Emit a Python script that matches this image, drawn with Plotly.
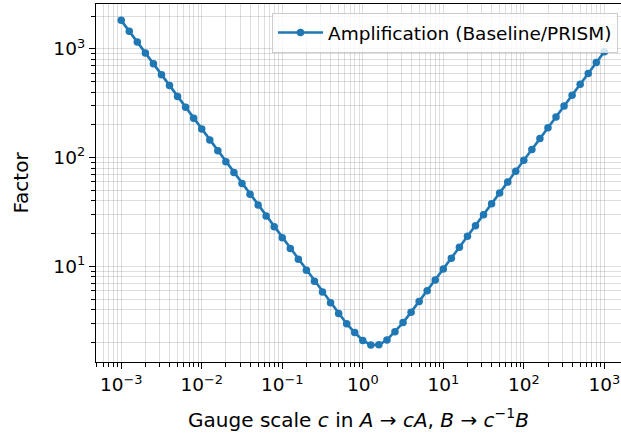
import plotly.graph_objects as go

# Gauge scale c, sampled at 10 points per decade from 1e-3 to 1e3
gauge_exponents = list(range(-30, 31))
gauge_scale = [10 ** (e / 10) for e in gauge_exponents]

# Amplification factor (Baseline / PRISM) at each gauge scale
amplification = [
    1834, 1457, 1157, 919, 730, 580, 461, 366, 291, 231,
    183.4, 145.7, 115.7, 91.9, 73.0, 58.0, 46.1, 36.6, 29.1, 23.1,
    18.3, 14.6, 11.6, 9.19, 7.31, 5.81, 4.62, 3.69, 2.97, 2.46,
    2.08, 1.89, 1.90, 2.10, 2.50, 3.04, 3.79, 4.75, 5.97, 7.51,
    9.45, 11.9, 15.0, 18.9, 23.7, 29.9, 37.6, 47.4, 59.6, 75.1,
    94.5, 119, 150, 189, 237, 299, 376, 474, 596, 751, 945,
]

series_name = "Amplification (Baseline/PRISM)"
x_title = ("Gauge scale <i>c</i> in <i>A</i> \u2192 <i>cA</i>,"
           " <i>B</i> \u2192 <i>c</i><sup>\u22121</sup><i>B</i>")
y_title = "Factor"

x_major = [10 ** k for k in range(-3, 4)]
x_major_text = [f"10<sup>{str(k).replace('-', '\u2212')}</sup>" for k in range(-3, 4)]
y_major = [10, 100, 1000]
y_major_text = ["10<sup>1</sup>", "10<sup>2</sup>", "10<sup>3</sup>"]

x_range_log = [-3.313, 3.207]
y_range_log = [0.12, 3.414]

x_minor = [m * 10 ** d for d in range(-4, 4) for m in range(2, 10)
           if 10 ** x_range_log[0] < m * 10 ** d < 10 ** x_range_log[1]]
y_minor = [m * 10 ** d for d in range(0, 4) for m in range(2, 10)
           if 10 ** y_range_log[0] < m * 10 ** d < 10 ** y_range_log[1]]

FONT = "DejaVu Sans"
FS = 18.5
FS_TITLE = 20
BLUE = "#1f77b4"
GRID = "rgba(0,0,0,0.13)"

fig = go.Figure()
fig.add_trace(go.Scatter(
    x=gauge_scale, y=amplification, name=series_name,
    mode="lines+markers",
    line=dict(color=BLUE, width=2.6),
    marker=dict(color=BLUE, size=7.5),
))

axis_common = dict(
    type="log", showline=True, linecolor="black", linewidth=1.3,
    ticks="outside", ticklen=6, tickwidth=1.3, tickcolor="black",
    showgrid=True, gridcolor=GRID, gridwidth=1.2, zeroline=False,
    tickfont=dict(family=FONT, size=FS, color="black"),
)

fig.update_xaxes(
    **axis_common, range=x_range_log, mirror=True,
    tickmode="array", tickvals=x_major, ticktext=x_major_text,
    minor=dict(tickvals=x_minor, ticks="outside", ticklen=3.5, tickwidth=1,
               tickcolor="black", showgrid=True, gridcolor=GRID, gridwidth=1.2),
    title=dict(text=x_title, font=dict(family=FONT, size=FS_TITLE, color="black"),
               standoff=18),
)
fig.update_yaxes(
    **axis_common, range=y_range_log, mirror=False,
    tickmode="array", tickvals=y_major, ticktext=y_major_text,
    minor=dict(tickvals=y_minor, ticks="outside", ticklen=3.5, tickwidth=1,
               tickcolor="black", showgrid=True, gridcolor=GRID, gridwidth=1.2),
    title=dict(text=y_title, font=dict(family=FONT, size=FS_TITLE, color="black"),
               standoff=19),
)

fig.update_layout(
    width=621, height=440,
    margin=dict(l=96, r=0, t=4, b=78),
    paper_bgcolor="white", plot_bgcolor="white",
    font=dict(family=FONT, size=FS, color="black"),
    showlegend=True,
    legend=dict(
        x=0.9943, y=0.975, xanchor="right", yanchor="top",
        bgcolor="rgba(255,255,255,0.8)", bordercolor="#cccccc", borderwidth=1,
        itemwidth=45,
        font=dict(family=FONT, size=FS, color="black"),
    ),
)

fig.write_html("out.html")
